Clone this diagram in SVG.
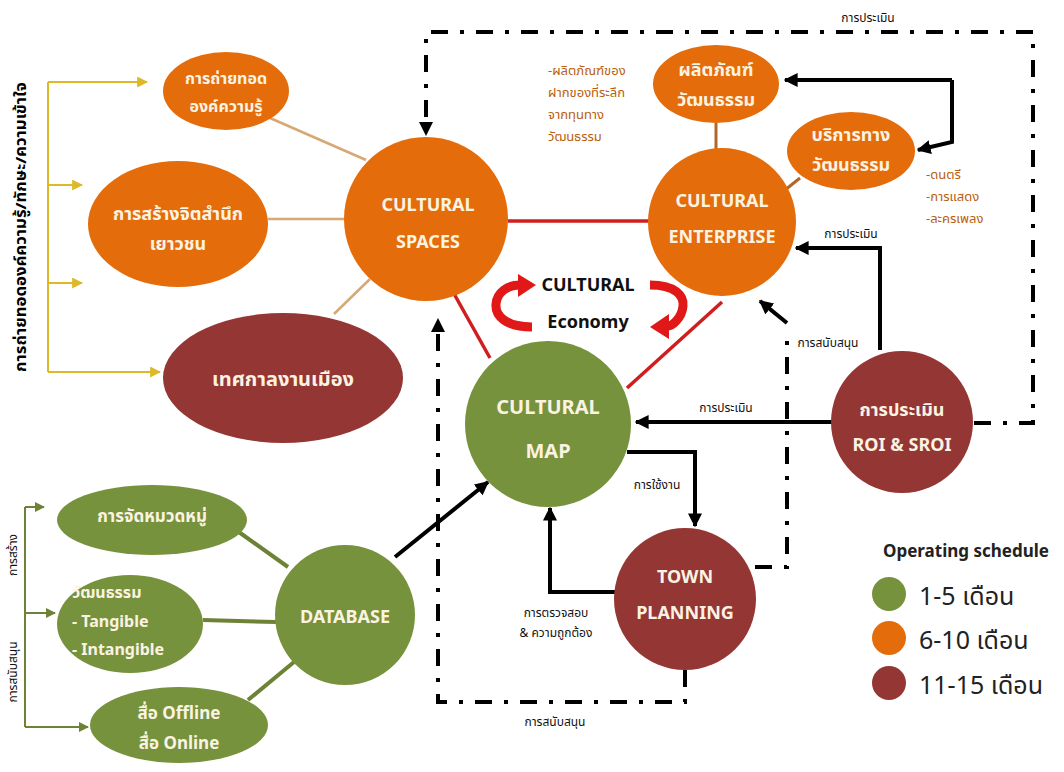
<svg xmlns="http://www.w3.org/2000/svg" width="1064" height="772" viewBox="0 0 1064 772">
<defs>
<style>
.t{font-family:"Noto Sans","Noto Sans Thai","DejaVu Sans",sans-serif;font-weight:bold;text-anchor:middle}
.nt{fill:#FBF3E2;font-size:18px}
.lbl{fill:#111;font-size:12px;font-weight:normal}
.ann{fill:#B8600E;font-size:13px;font-weight:normal;text-anchor:start}
.or{fill:#E46C0A}
.gr{fill:#76923C}
.dr{fill:#943634}
.blk{stroke:#000;stroke-width:4;fill:none}
.dd{stroke:#000;stroke-width:4;fill:none;stroke-dasharray:17 12 4 12}
.yl{stroke:#DDB92A;stroke-width:2;fill:none}
.ol{stroke:#6E8236;stroke-width:2;fill:none}
.tan{stroke:#D7A774;stroke-width:2.5;fill:none}
.brn{stroke:#B1662C;stroke-width:3;fill:none}
.red{stroke:#D01E1E;stroke-width:3.5;fill:none}
.grl{stroke:#6E8236;stroke-width:4;fill:none}
</style>
<marker id="ab" viewBox="0 0 10 10" refX="9" refY="5" markerWidth="14" markerHeight="14" markerUnits="userSpaceOnUse" orient="auto"><path d="M0 0L10 5L0 10z" fill="#000"/></marker>
<marker id="ay" viewBox="0 0 10 10" refX="9" refY="5" markerWidth="11" markerHeight="11" markerUnits="userSpaceOnUse" orient="auto"><path d="M0 0L10 5L0 10z" fill="#DDB92A"/></marker>
<marker id="ag" viewBox="0 0 10 10" refX="9" refY="5" markerWidth="10" markerHeight="10" markerUnits="userSpaceOnUse" orient="auto"><path d="M0 0L10 5L0 10z" fill="#6E8236"/></marker>
</defs>
<rect width="1064" height="772" fill="#fff"/>

<g id="connectors">
<path class="yl" d="M48 82V372"/>
<path class="yl" d="M48 82H147" marker-end="url(#ay)"/>
<path class="yl" d="M48 185H82" marker-end="url(#ay)"/>
<path class="yl" d="M48 283H82" marker-end="url(#ay)"/>
<path class="yl" d="M48 372H160" marker-end="url(#ay)"/>
<path class="ol" d="M25 507V727"/>
<path class="ol" d="M25 507H44" marker-end="url(#ag)"/>
<path class="ol" d="M25 613H55" marker-end="url(#ag)"/>
<path class="ol" d="M25 727H88" marker-end="url(#ag)"/>
<path class="tan" d="M270 118L366 160"/>
<path class="tan" d="M268 219H346"/>
<path class="tan" d="M334 314L370 279"/>
<path class="brn" d="M716 123V150"/>
<path class="brn" d="M800 178L785 190"/>
<path class="red" d="M508 221H651"/>
<path class="red" d="M453 292L490 358"/>
<path class="red" d="M722 302L627 388"/>
<path class="grl" d="M236 530L288 567"/>
<path class="grl" d="M203 620L276 622"/>
<path class="grl" d="M248 700L294 662"/>
<path class="blk" d="M395 557L488 482" marker-end="url(#ab)"/>
<path class="dd" d="M974 423H1033V32H426V122"/>
<path d="M419 122L433 122L426 136z" fill="#000"/>
<path class="blk" d="M952 80H785" marker-end="url(#ab)"/>
<path class="blk" d="M952 80V142L918 150" marker-end="url(#ab)"/>
<path class="blk" d="M880 350V248H796" marker-end="url(#ab)"/>
<path class="blk" d="M832 422H636" marker-end="url(#ab)"/>
<path class="blk" d="M787 323L760 301" marker-end="url(#ab)"/>
<path class="dd" d="M755 567H787V335"/>
<path class="blk" d="M627 452H695V526" marker-end="url(#ab)"/>
<path class="blk" d="M616 592H550V508" marker-end="url(#ab)"/>
<path class="dd" d="M685 670V702H438V332"/>
<path d="M431 332L445 332L438 318z" fill="#000"/>
<path d="M532 327C506 327 495 316 496 304C497 292 508 285 520 285" stroke="#E01818" stroke-width="9" fill="none"/>
<path d="M518 274L536 285L518 297z" fill="#E01818"/>
<path d="M650 285C676 285 684 296 683 306C682 318 672 326 668 326" stroke="#E01818" stroke-width="9" fill="none"/>
<path d="M669 314L650 327L669 339z" fill="#E01818"/>
</g>

<g id="labels">
<text class="t" style="font-size:15px" transform="translate(26 227) rotate(-90)" textLength="290" lengthAdjust="spacingAndGlyphs">การถ่ายทอดองค์ความรู้/ทักษะ/ความเข้าใจ</text>
<text class="t lbl" transform="translate(17 555) rotate(-90)">การสร้าง</text>
<text class="t lbl" transform="translate(17 672) rotate(-90)">การสนับสนุน</text>
<text class="t lbl" x="868" y="22">การประเมิน</text>
<text class="t lbl" x="851" y="238">การประเมิน</text>
<text class="t lbl" x="726" y="412">การประเมิน</text>
<text class="t lbl" x="828" y="347">การสนับสนุน</text>
<text class="t lbl" x="657" y="489">การใช้งาน</text>
<text class="t lbl" x="556" y="617">การตรวจสอบ</text>
<text class="t lbl" x="556" y="637">&amp; ความถูกต้อง</text>
<text class="t lbl" x="555" y="726">การสนับสนุน</text>
<text class="t" style="font-size:18px;fill:#111" x="588" y="291">CULTURAL</text>
<text class="t" style="font-size:18px;fill:#111" x="588" y="328">Economy</text>
<text class="t ann" x="548" y="75">-ผลิตภัณฑ์ของ</text>
<text class="t ann" x="548" y="97">ฝากของที่ระลึก</text>
<text class="t ann" x="548" y="119">จากทุนทาง</text>
<text class="t ann" x="548" y="141">วัฒนธรรม</text>
<text class="t ann" x="926" y="179">-ดนตรี</text>
<text class="t ann" x="926" y="201">-การแสดง</text>
<text class="t ann" x="926" y="223">-ละครเพลง</text>
</g>

<g id="n-transfer"><ellipse class="or" cx="226" cy="91" rx="63" ry="39"/><text class="t nt" style="font-size:16px" x="226" y="84">การถ่ายทอด</text><text class="t nt" style="font-size:16px" x="226" y="112">องค์ความรู้</text></g>
<g id="n-youth"><ellipse class="or" cx="178" cy="224" rx="90" ry="63"/><text class="t nt" x="178" y="220">การสร้างจิตสำนึก</text><text class="t nt" x="178" y="250">เยาวชน</text></g>
<g id="n-festival"><ellipse class="dr" cx="283" cy="378" rx="120" ry="65"/><text class="t nt" style="font-size:20px" x="283" y="386">เทศกาลงานเมือง</text></g>
<g id="n-spaces"><circle class="or" cx="426" cy="219" r="82"/><text class="t nt" x="428" y="211">CULTURAL</text><text class="t nt" x="428" y="248">SPACES</text></g>
<g id="n-product"><ellipse class="or" cx="716" cy="84" rx="63" ry="39"/><text class="t nt" x="716" y="76">ผลิตภัณฑ์</text><text class="t nt" x="716" y="106">วัฒนธรรม</text></g>
<g id="n-service"><ellipse class="or" cx="851" cy="151" rx="64" ry="39"/><text class="t nt" x="851" y="141">บริการทาง</text><text class="t nt" x="851" y="171">วัฒนธรรม</text></g>
<g id="n-enterprise"><circle class="or" cx="722" cy="222" r="74"/><text class="t nt" x="722" y="207">CULTURAL</text><text class="t nt" x="722" y="243">ENTERPRISE</text></g>
<g id="n-map"><circle class="gr" cx="548" cy="424" r="83"/><text class="t nt" style="font-size:20px" x="548" y="414">CULTURAL</text><text class="t nt" style="font-size:20px" x="548" y="458">MAP</text></g>
<g id="n-town"><circle class="dr" cx="685" cy="599" r="71"/><text class="t nt" x="685" y="583">TOWN</text><text class="t nt" x="685" y="619">PLANNING</text></g>
<g id="n-roi"><circle class="dr" cx="902" cy="422" r="71"/><text class="t nt" x="902" y="416">การประเมิน</text><text class="t nt" x="902" y="451">ROI &amp; SROI</text></g>
<g id="n-database"><circle class="gr" cx="345" cy="615" r="70"/><text class="t nt" x="345" y="623">DATABASE</text></g>
<g id="n-category"><ellipse class="gr" cx="152" cy="520" rx="95" ry="35"/><text class="t nt" style="font-size:17px" x="152" y="522">การจัดหมวดหมู่</text></g>
<g id="n-culture"><ellipse class="gr" cx="130" cy="624" rx="73" ry="49"/><text class="t nt" style="font-size:16px;text-anchor:start" x="72" y="598">วัฒนธรรม</text><text class="t nt" style="font-size:16px;text-anchor:start" x="72" y="627">- Tangible</text><text class="t nt" style="font-size:16px;text-anchor:start" x="72" y="655">- Intangible</text></g>
<g id="n-media"><ellipse class="gr" cx="179" cy="725" rx="89" ry="38"/><text class="t nt" style="font-size:17px" x="179" y="719">สื่อ Offline</text><text class="t nt" style="font-size:17px" x="179" y="749">สื่อ Online</text></g>

<g id="legend">
<text class="t" style="font-size:17px;fill:#222" x="966" y="557">Operating schedule</text>
<circle class="gr" cx="889" cy="594" r="17"/>
<circle class="or" cx="889" cy="638" r="17"/>
<circle class="dr" cx="889" cy="683" r="17"/>
<text class="t" style="font-size:25px;font-weight:normal;fill:#222;text-anchor:start" x="919" y="605">1-5 เดือน</text>
<text class="t" style="font-size:25px;font-weight:normal;fill:#222;text-anchor:start" x="919" y="649">6-10 เดือน</text>
<text class="t" style="font-size:25px;font-weight:normal;fill:#222;text-anchor:start" x="919" y="694">11-15 เดือน</text>
</g>
</svg>
